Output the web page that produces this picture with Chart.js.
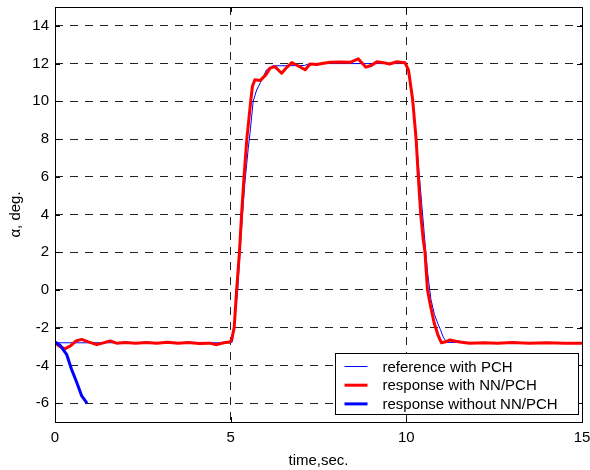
<!DOCTYPE html>
<html lang="en">
<head>
    <meta charset="UTF-8">
    <title>Angle of attack response</title>
    <style>
        body {
            margin: 0;
            background: #fff;
        }

        #wrap {
            width: 590px;
            height: 470px;
        }
    </style>
</head>
<body>
    <div id="wrap">
        <canvas id="alpha-chart" width="590" height="470"></canvas>
    </div>

    <script src="https://cdn.jsdelivr.net/npm/chart.js"></script>
    <script>
        // reference with PCH (thin blue)
        const refT = [0, 5.0, 5.05, 5.12, 5.2, 5.3, 5.4, 5.5, 5.55, 5.64, 5.74, 5.85, 6.02, 6.2, 7.1, 7.25, 10.0, 10.08, 10.2, 10.3, 10.4, 10.5, 10.6, 10.7, 10.8, 10.9, 10.97, 11.05, 11.15, 15];
        const refY = [-2.8, -2.8, -2.75, -1.6, 0, 3, 5.6, 7.5, 8.3, 10.0, 10.6, 11.0, 11.67, 11.88, 11.9, 12.0, 12.0, 11.6, 9.6, 7.6, 5.4, 3.2, 1.0, -0.5, -1.3, -1.8, -2.1, -2.5, -2.78, -2.8];

        // response with NN/PCH (thick red)
        const nnT = [0, 0.1, 0.28, 0.45, 0.6, 0.76, 0.95, 1.19, 1.35, 1.57, 1.75, 2.0, 2.3, 2.6, 2.9, 3.2, 3.5, 3.8, 4.1, 4.4, 4.6, 4.8, 4.98,
            5.03, 5.1, 5.17, 5.25, 5.31, 5.38, 5.46, 5.57, 5.62, 5.69, 5.84, 6.0, 6.12, 6.26, 6.45, 6.6, 6.74, 6.9, 7.12, 7.26, 7.45, 7.64, 7.83, 8.1, 8.4, 8.63, 8.85, 9.0, 9.16, 9.35, 9.52, 9.73, 9.96,
            10.06, 10.18, 10.28, 10.34, 10.41, 10.48, 10.53, 10.6, 10.69, 10.79, 10.91, 11.0, 11.12, 11.24, 11.4, 11.53, 11.8, 12.2, 12.6, 13.0, 13.5, 14.0, 14.5, 15];
        const nnY = [-2.76, -2.95, -3.12, -2.95, -2.7, -2.62, -2.75, -2.9, -2.82, -2.7, -2.82, -2.78, -2.82, -2.78, -2.83, -2.77, -2.82, -2.78, -2.84, -2.82, -2.9, -2.8, -2.76,
            -2.62, -2.0, 0, 2, 4, 6, 8, 10, 10.8, 11.14, 11.1, 11.4, 11.76, 11.84, 11.49, 11.8, 12.05, 11.9, 11.67, 11.98, 11.95, 12.02, 12.07, 12.08, 12.07, 12.25, 11.81, 11.9, 12.1, 12.05, 11.98, 12.1, 12.05,
            11.67, 10.08, 7.96, 6.02, 4.0, 2.67, 2.02, 0.03, -0.86, -1.74, -2.44, -2.8, -2.75, -2.65, -2.72, -2.76, -2.82, -2.8, -2.83, -2.79, -2.82, -2.8, -2.82, -2.82];

        // response without NN/PCH (thick blue)
        const noNnT = [0, 0.15, 0.33, 0.47, 0.62, 0.76, 0.9, 0.92];
        const noNnY = [-2.76, -2.95, -3.41, -4.2, -4.91, -5.62, -5.97, -6.0];

        const xTicks = [0, 5, 10, 15];
        const yTicks = [-6, -4, -2, 0, 2, 4, 6, 8, 10, 12, 14];

        const seriesLabels = ['reference with PCH', 'response with NN/PCH', 'response without NN/PCH'];

        const font = { family: '"Liberation Sans", Arial, sans-serif', size: 15 };

        function toPoints(ts, ys) {
            return ts.map((t, i) => ({ x: t, y: ys[i] }));
        }

        // frame, inner tick marks and the boxed legend, matlab style
        const framePlugin = {
            id: 'frame',
            afterDraw(chart) {
                const ctx = chart.ctx;
                const a = chart.chartArea;
                const xs = chart.scales.x;
                const ys = chart.scales.y;
                ctx.save();
                ctx.strokeStyle = '#000';
                ctx.lineWidth = 1;
                ctx.setLineDash([]);
                ctx.strokeRect(Math.round(a.left) + 0.5, Math.round(a.top) + 0.5, Math.round(a.right - a.left), Math.round(a.bottom - a.top));

                ctx.beginPath();
                yTicks.forEach(v => {
                    const py = Math.round(ys.getPixelForValue(v)) + 0.5;
                    ctx.moveTo(a.left, py); ctx.lineTo(a.left + 5, py);
                    ctx.moveTo(a.right - 5, py); ctx.lineTo(a.right, py);
                });
                xTicks.forEach(v => {
                    const px = Math.round(xs.getPixelForValue(v)) + 0.5;
                    ctx.moveTo(px, a.bottom); ctx.lineTo(px, a.bottom - 5);
                    ctx.moveTo(px, a.top); ctx.lineTo(px, a.top + 5);
                });
                ctx.stroke();

                // legend box
                const boxW = 243, boxH = 61;
                const bx = Math.round(a.right - 4 - boxW) + 0.5;
                const by = Math.round(a.bottom - 8 - boxH) + 0.5;
                ctx.fillStyle = '#fff';
                ctx.fillRect(bx, by, boxW, boxH);
                ctx.strokeRect(bx, by, boxW, boxH);

                ctx.font = font.size + 'px ' + font.family;
                ctx.textBaseline = 'middle';
                ctx.textAlign = 'left';
                chart.data.datasets.forEach((ds, i) => {
                    const rowY = by + 13 + i * 18.7;
                    ctx.beginPath();
                    ctx.strokeStyle = ds.borderColor;
                    ctx.lineWidth = ds.borderWidth;
                    ctx.moveTo(bx + 9, rowY);
                    ctx.lineTo(bx + 32, rowY);
                    ctx.stroke();
                    ctx.fillStyle = '#000';
                    ctx.fillText(ds.label, bx + 47, rowY + 1);
                });
                ctx.restore();
            }
        };

        const ctx = document.getElementById('alpha-chart').getContext('2d');

        new Chart(ctx, {
            type: 'line',
            data: {
                datasets: [{
                    label: seriesLabels[0],
                    data: toPoints(refT, refY),
                    borderColor: '#0000ff',
                    borderWidth: 1,
                    order: 3
                }, {
                    label: seriesLabels[1],
                    data: toPoints(nnT, nnY),
                    borderColor: '#ff0000',
                    borderWidth: 3,
                    order: 2
                }, {
                    label: seriesLabels[2],
                    data: toPoints(noNnT, noNnY),
                    borderColor: '#0000ff',
                    borderWidth: 3,
                    order: 1
                }]
            },
            options: {
                responsive: false,
                animation: false,
                devicePixelRatio: 1,
                layout: { padding: { top: 7, right: 8, left: 0, bottom: 0 } },
                elements: {
                    point: { radius: 0 },
                    line: { tension: 0, fill: false, borderJoinStyle: 'round' }
                },
                plugins: {
                    legend: { display: false },
                    tooltip: { enabled: false }
                },
                scales: {
                    x: {
                        type: 'linear',
                        min: 0,
                        max: 15,
                        afterBuildTicks: s => { s.ticks = xTicks.map(v => ({ value: v })); },
                        afterFit: s => {
                            s.height = 48;
                            s.paddingLeft = 0;
                            s.paddingRight = 0;
                        },
                        border: { display: false, dash: [8, 7] },
                        grid: {
                            color: '#222',
                            lineWidth: 1,
                            drawTicks: false
                        },
                        ticks: { color: '#000', font: font, padding: 7, maxRotation: 0 },
                        title: {
                            display: true,
                            text: 'time,sec.',
                            color: '#000',
                            font: font,
                            padding: { top: 5, bottom: 0 }
                        }
                    },
                    y: {
                        type: 'linear',
                        min: -7,
                        max: 15,
                        afterBuildTicks: s => { s.ticks = yTicks.map(v => ({ value: v })); },
                        afterFit: s => {
                            s.width = 55;
                            s.paddingTop = 0;
                            s.paddingBottom = 0;
                        },
                        border: { display: false, dash: [8, 7] },
                        grid: {
                            color: '#222',
                            lineWidth: 1,
                            drawTicks: false
                        },
                        ticks: { color: '#000', font: font, padding: 6 },
                        title: {
                            display: true,
                            text: 'α, deg.',
                            color: '#000',
                            font: font,
                            padding: { top: 7, bottom: 0 }
                        }
                    }
                }
            },
            plugins: [framePlugin]
        });
    </script>
</body>
</html>
